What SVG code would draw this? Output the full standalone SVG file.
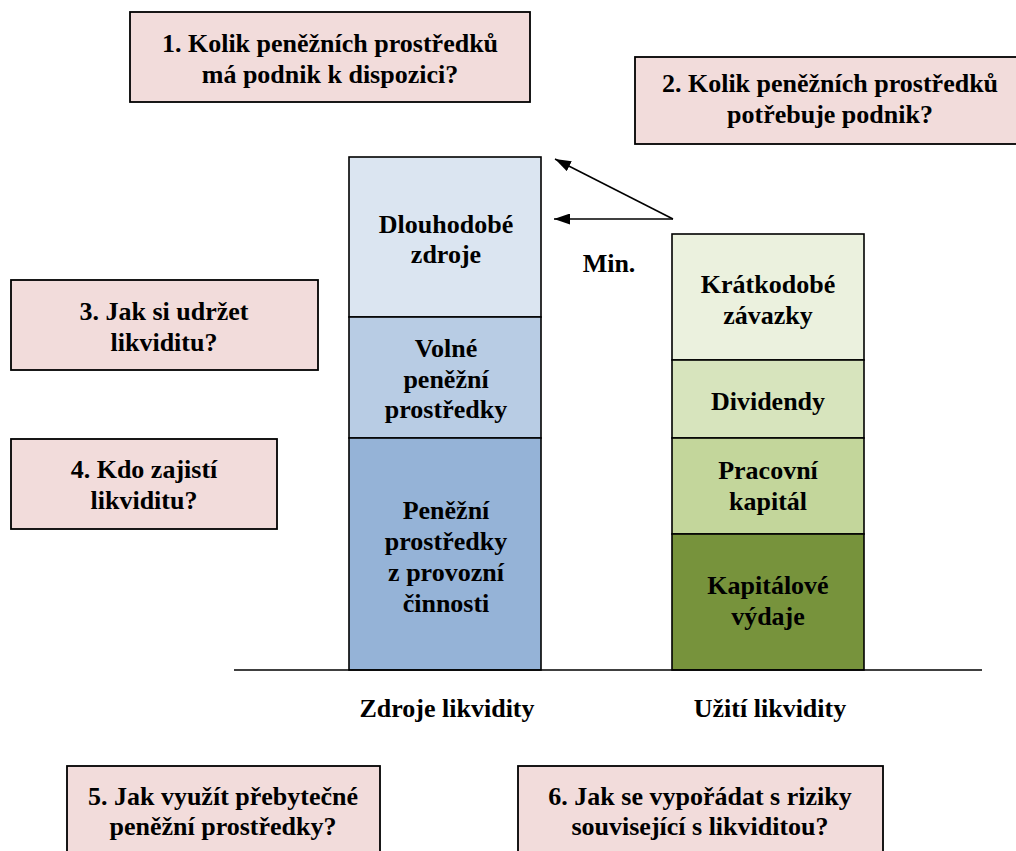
<svg xmlns="http://www.w3.org/2000/svg" width="1016" height="851" viewBox="0 0 1016 851" font-family="'Liberation Serif', 'DejaVu Serif', serif">
<style>
.q{fill:#f2dcdb;stroke:#000;stroke-width:1.8}
.c{stroke:#000;stroke-width:1.6}
.t{font-family:'Liberation Serif','DejaVu Serif',serif;font-weight:bold;font-size:26px;text-anchor:middle;fill:#000}
</style>
<defs>
<marker id="ah" viewBox="0 0 16 11" refX="16" refY="5.5" markerWidth="16" markerHeight="11" markerUnits="userSpaceOnUse" orient="auto">
<path d="M0,0 L16,5.5 L0,11 z" fill="#000"/>
</marker>
</defs>
<rect width="1016" height="851" fill="#fff"/>
<g id="q1" class="t"><rect class="q" x="130" y="12" width="400" height="90"/><text x="330" y="52">1. Kolik peněžních prostředků</text><text x="330" y="83">má podnik k dispozici?</text></g>
<g id="q2" class="t"><rect class="q" x="635" y="57" width="385" height="87"/><text x="830" y="92">2. Kolik peněžních prostředků</text><text x="830" y="123">potřebuje podnik?</text></g>
<g id="q3" class="t"><rect class="q" x="11" y="280" width="307" height="90"/><text x="164" y="320">3. Jak si udržet</text><text x="164" y="351">likviditu?</text></g>
<g id="q4" class="t"><rect class="q" x="11" y="439" width="266" height="90"/><text x="144" y="478">4. Kdo zajistí</text><text x="144" y="509">likviditu?</text></g>
<g id="q5" class="t"><rect class="q" x="67" y="766" width="313" height="95"/><text x="223" y="805">5. Jak využít přebytečné</text><text x="223" y="835">peněžní prostředky?</text></g>
<g id="q6" class="t"><rect class="q" x="518" y="766" width="365" height="95"/><text x="700" y="805">6. Jak se vypořádat s riziky</text><text x="700" y="835">související s likviditou?</text></g>
<g id="src1" class="t"><rect class="c" x="349" y="157" width="192" height="160" fill="#dbe5f1"/><text x="446" y="233">Dlouhodobé</text><text x="446" y="263">zdroje</text></g>
<g id="src2" class="t"><rect class="c" x="349" y="317" width="192" height="121" fill="#b8cce4"/><text x="446" y="357">Volné</text><text x="446" y="388">peněžní</text><text x="446" y="418">prostředky</text></g>
<g id="src3" class="t"><rect class="c" x="349" y="438" width="192" height="232" fill="#95b3d7"/><text x="446" y="519">Peněžní</text><text x="446" y="550">prostředky</text><text x="446" y="581">z provozní</text><text x="446" y="612">činnosti</text></g>
<g id="use1" class="t"><rect class="c" x="672" y="234" width="192" height="126" fill="#ebf1de"/><text x="768" y="293">Krátkodobé</text><text x="768" y="324">závazky</text></g>
<g id="use2" class="t"><rect class="c" x="672" y="360" width="192" height="78" fill="#d7e4bd"/><text x="768" y="410">Dividendy</text></g>
<g id="use3" class="t"><rect class="c" x="672" y="438" width="192" height="96" fill="#c3d69b"/><text x="768" y="479">Pracovní</text><text x="768" y="510">kapitál</text></g>
<g id="use4" class="t"><rect class="c" x="672" y="534" width="192" height="136" fill="#77933c"/><text x="768" y="594">Kapitálové</text><text x="768" y="625">výdaje</text></g>
<g id="axis"><line x1="234" y1="670" x2="982" y2="670" stroke="#000" stroke-width="1.6"/></g>
<g id="labels" class="t"><text x="447" y="717">Zdroje likvidity</text><text x="770" y="717">Užití likvidity</text><text x="609" y="272">Min.</text></g>
<g id="connectors" stroke="#000" stroke-width="1.5" fill="none">
<line x1="673" y1="219" x2="555" y2="159" marker-end="url(#ah)"/>
<line x1="673" y1="219" x2="554" y2="219" marker-end="url(#ah)"/>
</g>
</svg>
